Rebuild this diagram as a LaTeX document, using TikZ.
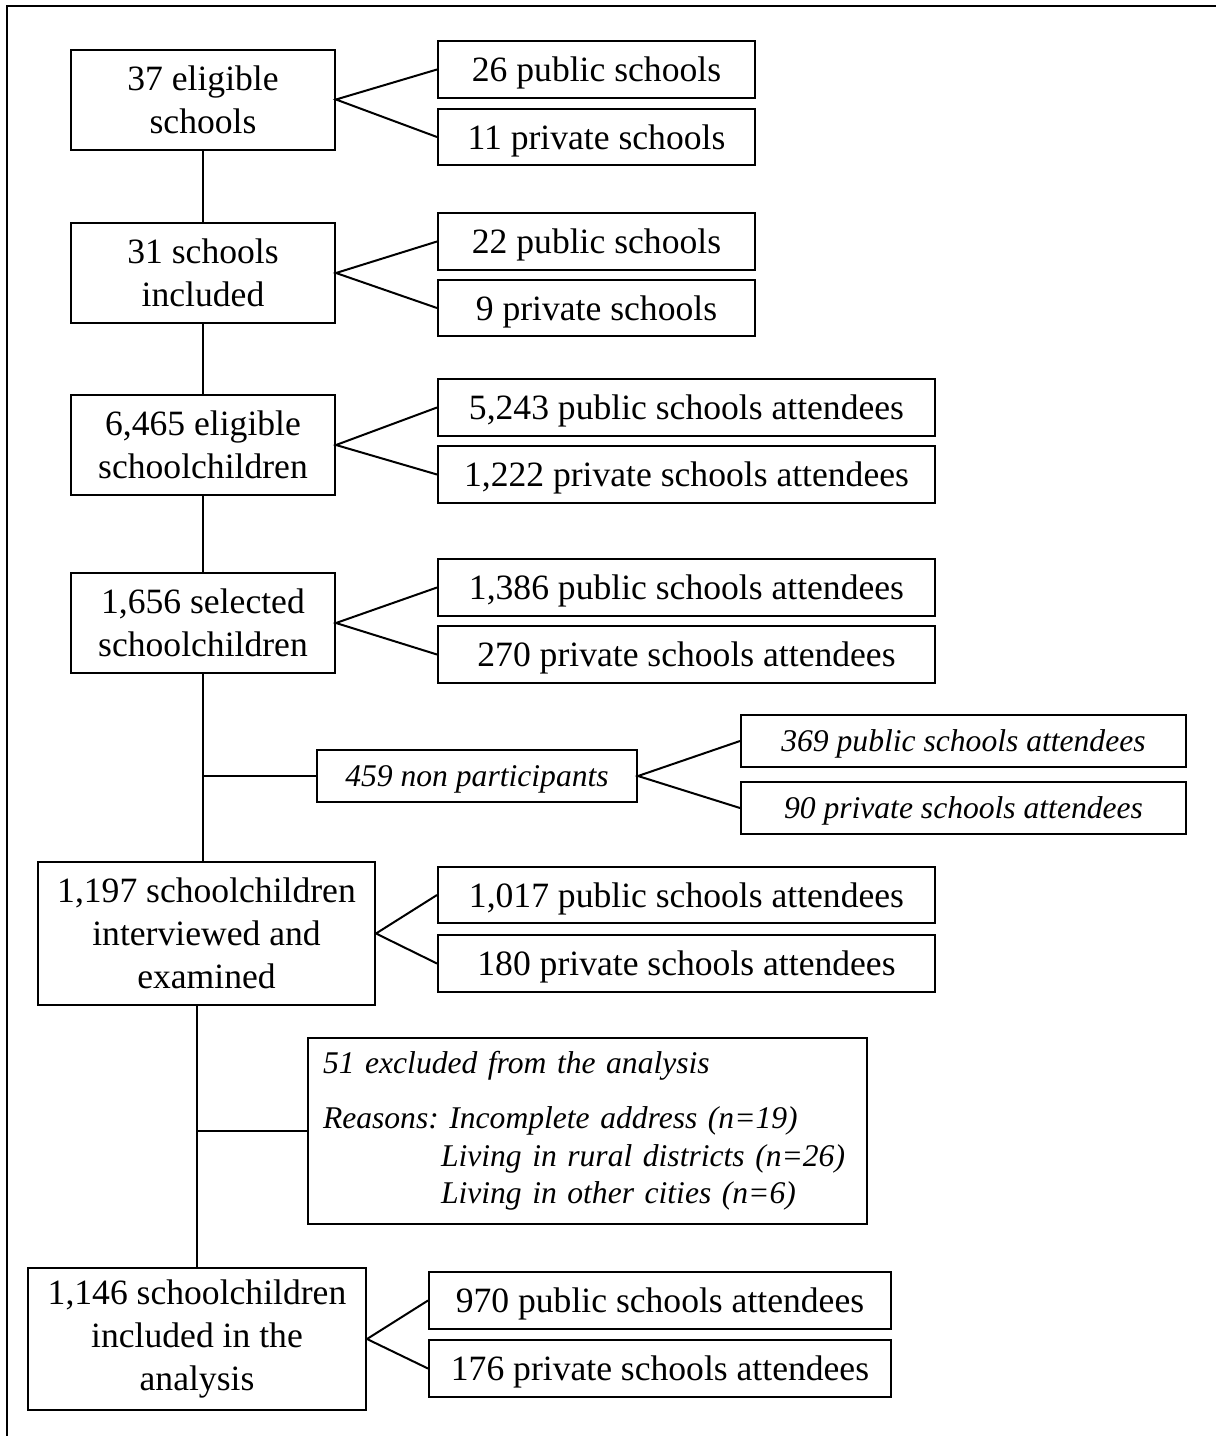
\documentclass[tikz,border=0pt]{standalone}
\usepackage{fontspec}
\setmainfont{Liberation Serif}
\usetikzlibrary{positioning}
\frenchspacing

\begin{document}
\begin{tikzpicture}[
    x=0.5pt, y=-0.5pt,
    stage/.style={draw, line width=1pt, align=center, inner sep=0pt, minimum width=132pt, minimum height=50pt, font=\fontsize{17.8}{21.5}\selectfont},
    split/.style={draw, line width=1pt, inner sep=0pt, text depth=0pt, minimum width=158.5pt, minimum height=28.25pt, font=\fontsize{17.8}{21.5}\selectfont},
    wide/.style={minimum width=248.5pt},
    note/.style={draw, line width=1pt, inner sep=0pt, minimum height=26pt, font=\fontsize{15.8}{18.75}\selectfont\itshape},
    link/.style={line width=1pt}
]
\useasboundingbox (0,0) rectangle (1216,1436);
\draw[line width=1pt] (7,1436) -- (7,6) -- (1216,6);

% Main flow
\node[stage] (schools) at (203,99.5) {37 eligible\\schools};
\node[stage] (incl) at (203,273) {31 schools\\included};
\node[stage] (elig) at (203,445) {6,465 eligible\\schoolchildren};
\node[stage] (sel) at (203,623) {1,656 selected\\schoolchildren};
\node[stage, minimum width=168.5pt, minimum height=71.5pt] (exam) at (206.5,933.5) {1,197 schoolchildren\\interviewed and\\examined};
\node[stage, minimum width=169pt, minimum height=71pt] (final) at (197,1339) {1,146 schoolchildren\\included in the\\analysis};

% Splits by school type
\node[split] (schoolsA) at (596.5,69.5) {26 public schools};
\node[split] (schoolsB) at (596.5,137) {11 private schools};
\node[split] (inclA) at (596.5,241.5) {22 public schools};
\node[split] (inclB) at (596.5,308) {9 private schools};
\node[split, wide] (eligA) at (686.5,407.5) {5,243 public schools attendees};
\node[split, wide] (eligB) at (686.5,474.5) {1,222 private schools attendees};
\node[split, wide] (selA) at (686.5,587.5) {1,386 public schools attendees};
\node[split, wide] (selB) at (686.5,654.5) {270 private schools attendees};
\node[split, wide] (examA) at (686.5,895) {1,017 public schools attendees};
\node[split, wide] (examB) at (686.5,963.5) {180 private schools attendees};
\node[split, minimum width=231pt] (finalA) at (660,1300.5) {970 public schools attendees};
\node[split, minimum width=231pt] (finalB) at (660,1368.5) {176 private schools attendees};

% Losses
\node[note, text depth=0pt, minimum width=160pt] (nonp) at (477,776) {459 non participants};
\node[note, text depth=0pt, minimum width=222.5pt] (nonpA) at (963.5,741) {369 public schools attendees};
\node[note, text depth=0pt, minimum width=222.5pt] (nonpB) at (963.5,808) {90 private schools attendees};
\node[note, minimum width=279.5pt, minimum height=93pt, align=left, text width=264.5pt, inner xsep=7.5pt] (excl) at (587.5,1131)
    {51 excluded from the analysis\\[8.75pt]
     Reasons: Incomplete address (n=19)\\
     \hspace*{59pt}Living in rural districts (n=26)\\
     \hspace*{59pt}Living in other cities (n=6)};

% Trunk
\draw[link] (schools) -- (incl);
\draw[link] (incl) -- (elig);
\draw[link] (elig) -- (sel);
\draw[link] (sel.south) -- (sel.south |- exam.north);
\draw[link] (final.north |- exam.south) -- (final.north);
\draw[link] (sel.south |- nonp.west) -- (nonp.west);
\draw[link] (final.north |- excl.west) -- (excl.west);

% Forks
\draw[link] (schoolsA.west) -- (schools.east) -- (schoolsB.west);
\draw[link] (inclA.west) -- (incl.east) -- (inclB.west);
\draw[link] (eligA.west) -- (elig.east) -- (eligB.west);
\draw[link] (selA.west) -- (sel.east) -- (selB.west);
\draw[link] (nonpA.west) -- (nonp.east) -- (nonpB.west);
\draw[link] (examA.west) -- (exam.east) -- (examB.west);
\draw[link] (finalA.west) -- (final.east) -- (finalB.west);
\end{tikzpicture}
\end{document}
